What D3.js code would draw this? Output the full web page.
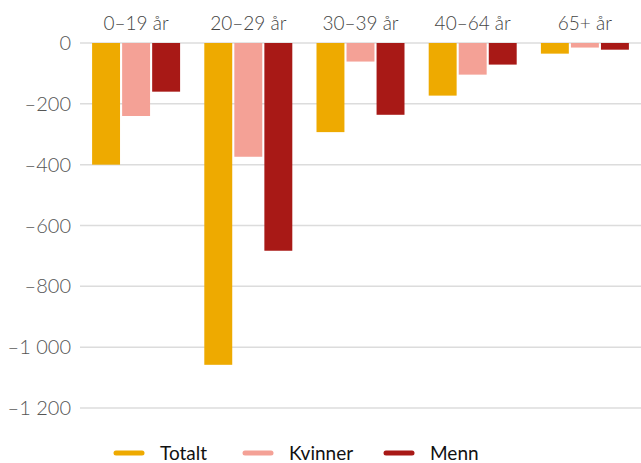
<!DOCTYPE html>
<html>
<head>
<meta charset="utf-8">
<script src="https://cdn.jsdelivr.net/npm/d3@7.9.0/dist/d3.min.js"></script>
<style>
  body { margin: 0; background: #fff; }
  text { font-family: "Lato", "Noto Sans", sans-serif; }
</style>
</head>
<body>
<div id="chart"></div>
<script>
const groups = ['0–19 år', '20–29 år', '30–39 år', '40–64 år', '65+ år'];
const seriesNames = ['Totalt', 'Kvinner', 'Menn'];
const totalt = [-400, -1058, -293, -173, -35];
const kvinner = [-240, -374, -61, -104, -15];
const menn = [-160, -683, -236, -71, -22];
const yTicks = [0, -200, -400, -600, -800, -1000, -1200];
const colors = ['#eeaa00', '#f4a196', '#a81916'];

const width = 641;
const height = 463;

const svg = d3.select('#chart')
    .append('svg')
    .attr('width', width)
    .attr('height', height);

const yScale = d3.scaleLinear()
    .domain([0, -1200])
    .range([43, 408]);

const x0 = d3.scaleBand()
    .domain(groups)
    .range([80, 641])
    .paddingInner(0.2157)
    .paddingOuter(0.2157 / 2);

const x1 = d3.scaleBand()
    .domain(seriesNames)
    .range([0, x0.bandwidth()])
    .paddingInner(0.07);

const color = d3.scaleOrdinal().domain(seriesNames).range(colors);

// gridlines
svg.append('g')
    .selectAll('line')
    .data(yTicks)
    .join('line')
    .attr('x1', 80)
    .attr('x2', width)
    .attr('y1', d => yScale(d))
    .attr('y2', d => yScale(d))
    .attr('stroke', '#dcdcdc')
    .attr('stroke-width', 1.5);

// y labels (space as thousands separator, en dash as minus)
const fmt = d => (d < 0 ? '–' : '') + d3.format(',')(Math.abs(d)).replace(',', ' ');
svg.append('g')
    .selectAll('text')
    .data(yTicks)
    .join('text')
    .attr('x', 71)
    .attr('y', d => yScale(d))
    .attr('dy', '0.35em')
    .attr('text-anchor', 'end')
    .attr('fill', '#555')
    .attr('font-size', 20)
    .attr('font-weight', 300)
    .text(fmt);

// bars
const rows = groups.map((g, i) => ({
    group: g,
    values: [
        { key: 'Totalt', value: totalt[i] },
        { key: 'Kvinner', value: kvinner[i] },
        { key: 'Menn', value: menn[i] },
    ],
}));

svg.append('g')
    .selectAll('g')
    .data(rows)
    .join('g')
    .attr('transform', d => `translate(${x0(d.group)},0)`)
    .selectAll('rect')
    .data(d => d.values)
    .join('rect')
    .attr('x', d => x1(d.key))
    .attr('width', x1.bandwidth())
    .attr('y', yScale(0))
    .attr('height', d => yScale(d.value) - yScale(0))
    .attr('fill', d => color(d.key));

// category labels
svg.append('g')
    .selectAll('text')
    .data(groups)
    .join('text')
    .attr('x', d => x0(d) + x0.bandwidth() / 2)
    .attr('y', 30)
    .attr('text-anchor', 'middle')
    .attr('fill', '#444')
    .attr('font-size', 19)
    .attr('font-weight', 300)
    .text(d => d);

// legend
const legendX = [114, 243, 384];
const legend = svg.append('g')
    .selectAll('g')
    .data(seriesNames)
    .join('g')
    .attr('transform', (d, i) => `translate(${legendX[i]},453)`);

legend.append('line')
    .attr('x1', 2)
    .attr('x2', 28)
    .attr('stroke', d => color(d))
    .attr('stroke-width', 5)
    .attr('stroke-linecap', 'round');

legend.append('text')
    .attr('x', 46)
    .attr('dy', '0.35em')
    .attr('fill', '#111')
    .attr('font-size', 19)
    .text(d => d);
</script>
</body>
</html>
